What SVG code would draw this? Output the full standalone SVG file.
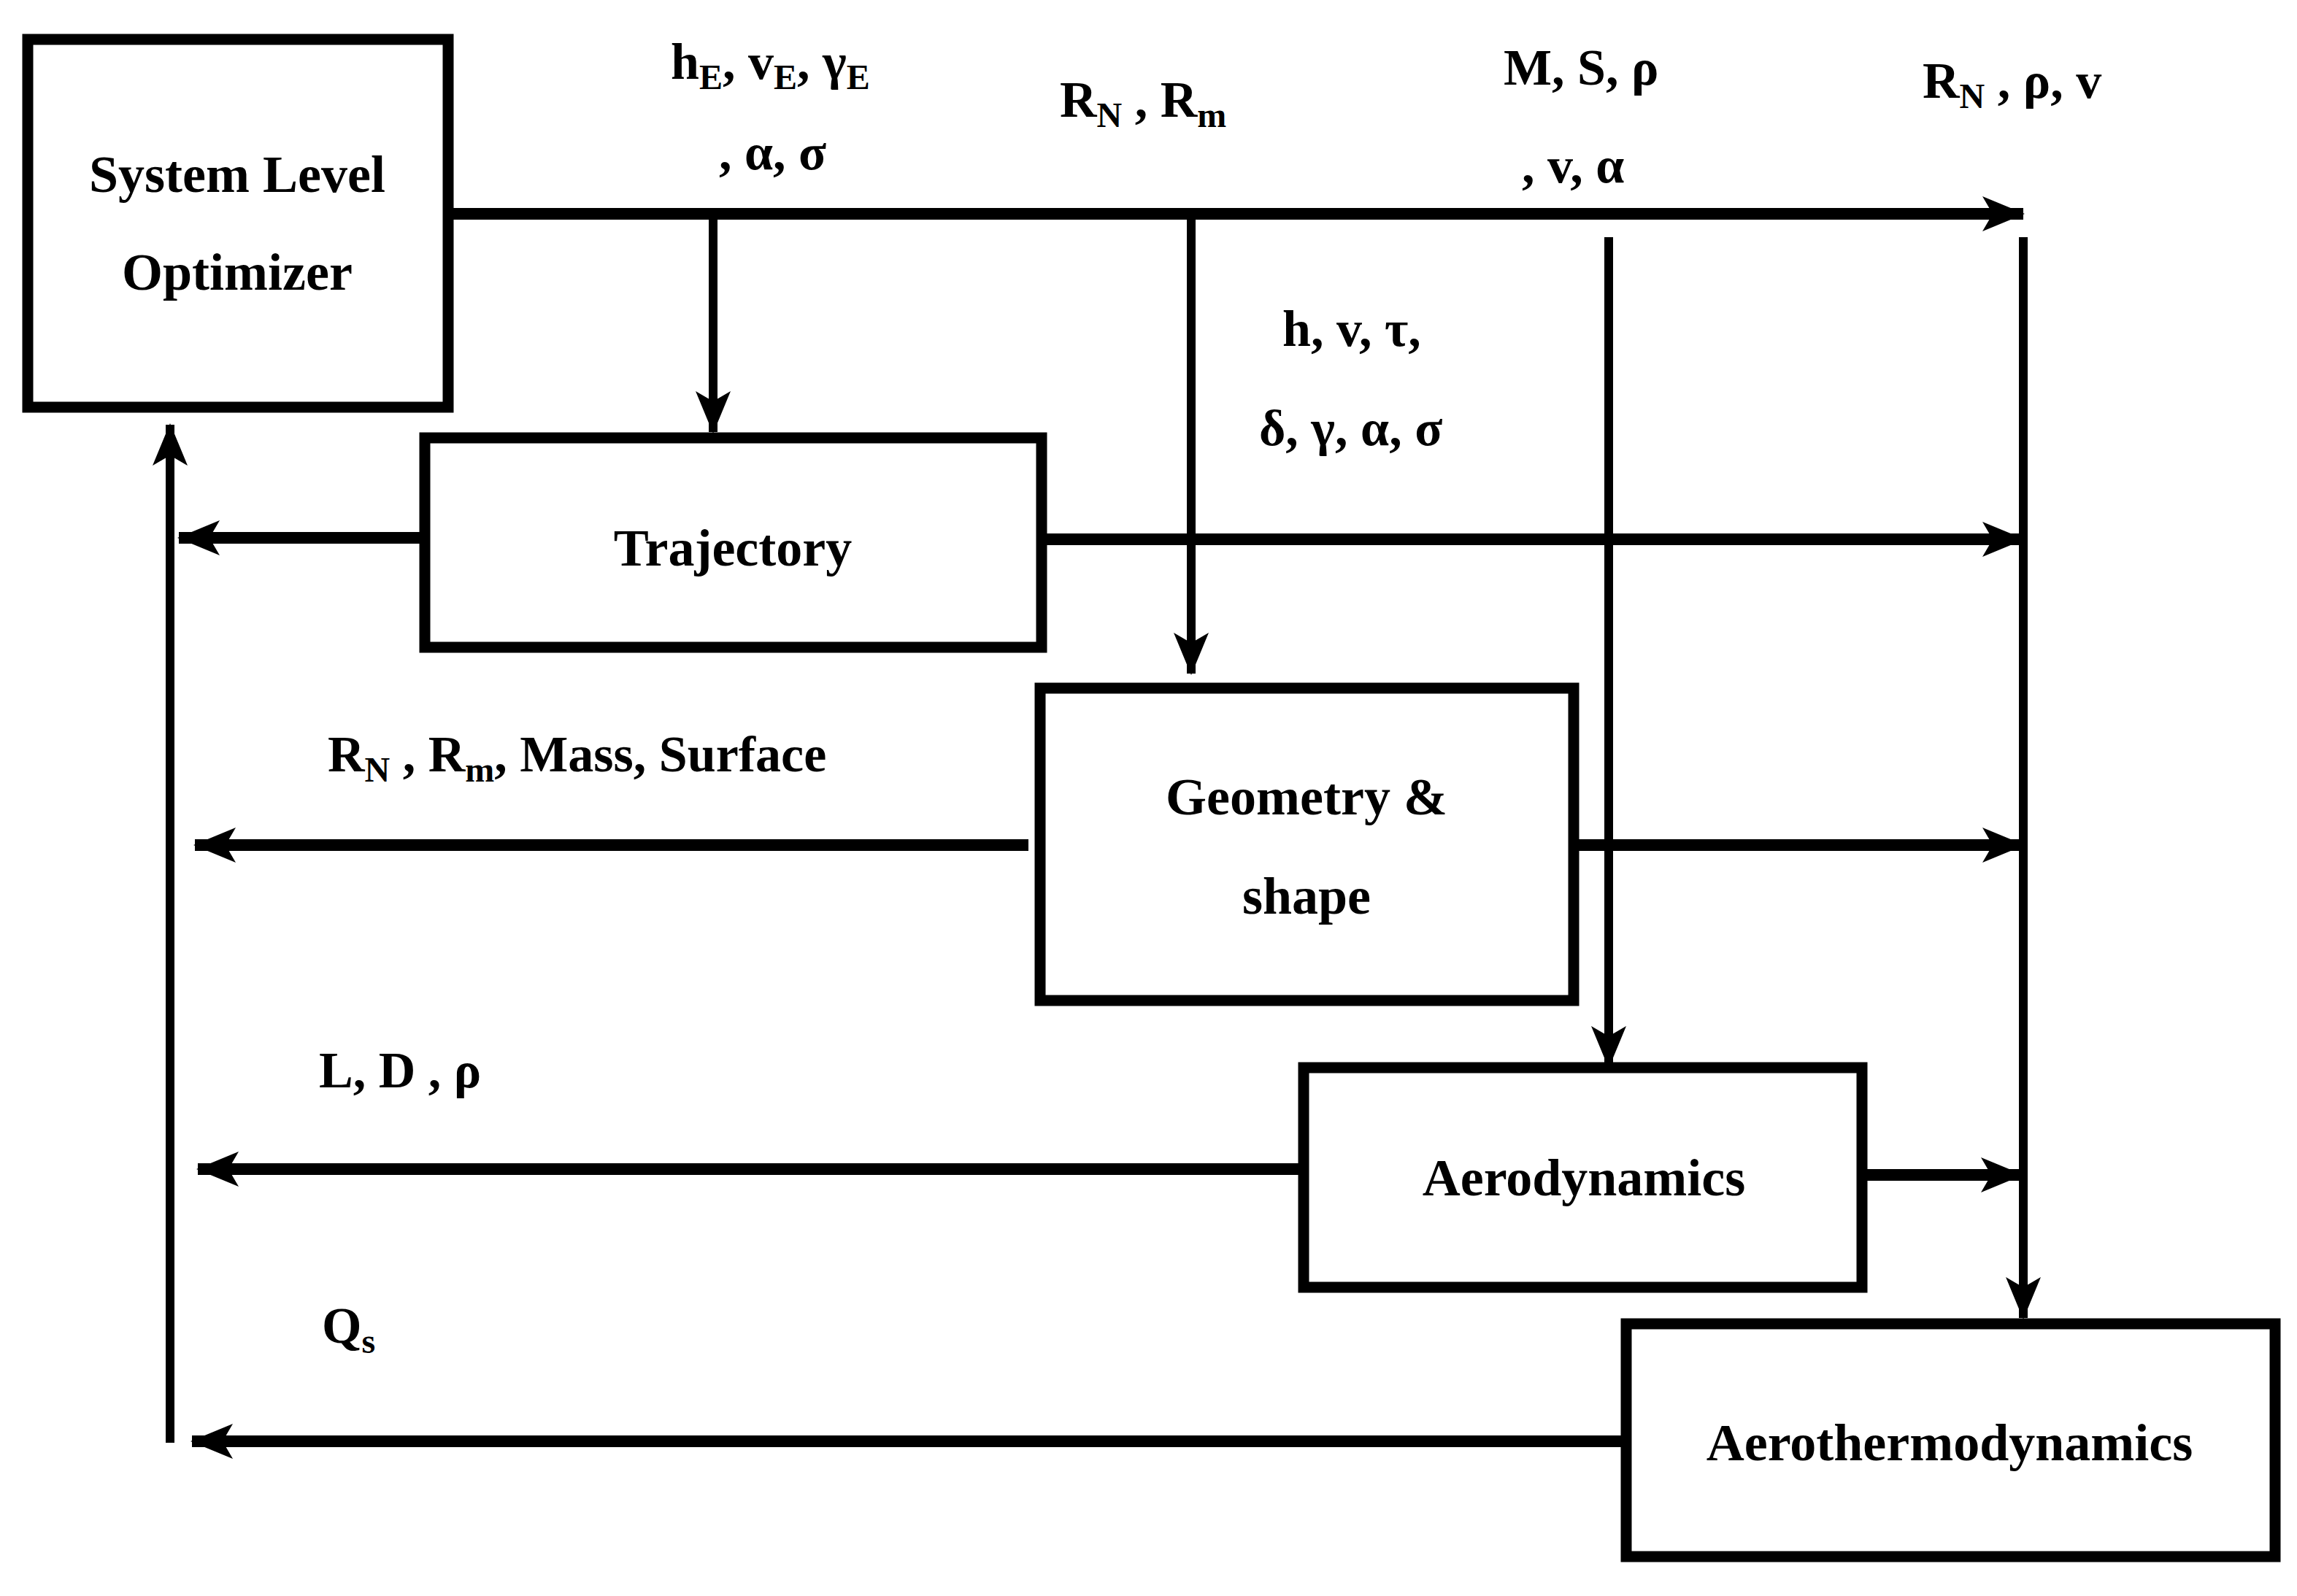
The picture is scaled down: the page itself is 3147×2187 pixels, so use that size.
<svg xmlns="http://www.w3.org/2000/svg" width="3147" height="2187" viewBox="0 0 3147 2187">
<style>
.box{fill:#fff;stroke:#000;stroke-width:15}
.t{font-family:"Liberation Serif",serif;font-weight:bold;font-size:72px;fill:#000}
.l{font-family:"Liberation Serif",serif;font-weight:bold;font-size:70px;fill:#000}
.s{font-size:48px}
.c{stroke:#000;stroke-width:12;fill:none}
.k{stroke:#000;stroke-width:16;fill:none}
</style>
<defs>
<marker id="a" markerUnits="userSpaceOnUse" markerWidth="60" markerHeight="60" viewBox="0 0 60 60" refX="56" refY="30" orient="auto">
<path d="M0,6 L58,30 L0,54 L14,30 Z" fill="#000"/>
</marker>
</defs>
<rect width="3147" height="2187" fill="#fff"/>
<g id="connectors">
<line class="k" x1="618" y1="293" x2="2772" y2="293" marker-end="url(#a)"/>
<line class="c" x1="977" y1="293" x2="977" y2="592" marker-end="url(#a)"/>
<line class="c" x1="1632" y1="293" x2="1632" y2="923" marker-end="url(#a)"/>
<line class="c" x1="2204" y1="325" x2="2204" y2="1462" marker-end="url(#a)"/>
<line class="c" x1="2772" y1="325" x2="2772" y2="1806" marker-end="url(#a)"/>
<line class="c" x1="233" y1="1977" x2="233" y2="582" marker-end="url(#a)"/>
<line class="k" x1="578" y1="737" x2="245" y2="737" marker-end="url(#a)"/>
<line class="k" x1="1431" y1="739" x2="2772" y2="739" marker-end="url(#a)"/>
<line class="k" x1="1409" y1="1158" x2="267" y2="1158" marker-end="url(#a)"/>
<line class="k" x1="2160" y1="1158" x2="2772" y2="1158" marker-end="url(#a)"/>
<line class="k" x1="1782" y1="1602" x2="271" y2="1602" marker-end="url(#a)"/>
<line class="k" x1="2555" y1="1610" x2="2770" y2="1610" marker-end="url(#a)"/>
<line class="k" x1="2224" y1="1975" x2="263" y2="1975" marker-end="url(#a)"/>
</g>
<g id="slo"><rect class="box" x="38" y="54" width="576" height="504"/>
<text class="t" x="325" y="263" text-anchor="middle">System Level</text>
<text class="t" x="325" y="397" text-anchor="middle">Optimizer</text></g>
<g id="trajectory"><rect class="box" x="582" y="600" width="845" height="287"/>
<text class="t" x="1004" y="775" text-anchor="middle">Trajectory</text></g>
<g id="geometry"><rect class="box" x="1425" y="943" width="731" height="428"/>
<text class="t" x="1790" y="1116" text-anchor="middle">Geometry &amp;</text>
<text class="t" x="1790" y="1252" text-anchor="middle">shape</text></g>
<g id="aerodynamics"><rect class="box" x="1786" y="1463" width="765" height="301"/>
<text class="t" x="2170" y="1638" text-anchor="middle">Aerodynamics</text></g>
<g id="aerothermodynamics"><rect class="box" x="2228" y="1814" width="889" height="319"/>
<text class="t" x="2671" y="2001" text-anchor="middle">Aerothermodynamics</text></g>
<g id="labels">
<text class="l" x="919" y="108">h<tspan class="s" dy="14">E</tspan><tspan dy="-14">, v</tspan><tspan class="s" dy="14">E</tspan><tspan dy="-14">, γ</tspan><tspan class="s" dy="14">E</tspan></text>
<text class="l" x="985" y="232">, α, σ</text>
<text class="l" x="1452" y="160">R<tspan class="s" dy="14">N</tspan><tspan dy="-14"> , R</tspan><tspan class="s" dy="14">m</tspan></text>
<text class="l" x="2060" y="116">M, S, ρ</text>
<text class="l" x="2085" y="250">, v, α</text>
<text class="l" x="2634" y="134">R<tspan class="s" dy="14">N</tspan><tspan dy="-14"> , ρ, v</tspan></text>
<text class="l" x="1757" y="474">h, v, τ,</text>
<text class="l" x="1725" y="610">δ, γ, α, σ</text>
<text class="l" x="449" y="1057">R<tspan class="s" dy="14">N</tspan><tspan dy="-14"> , R</tspan><tspan class="s" dy="14">m</tspan><tspan dy="-14">, Mass, Surface</tspan></text>
<text class="l" x="437" y="1490">L, D , ρ</text>
<text class="l" x="441" y="1840">Q<tspan class="s" dy="14">s</tspan></text>
</g>
</svg>
